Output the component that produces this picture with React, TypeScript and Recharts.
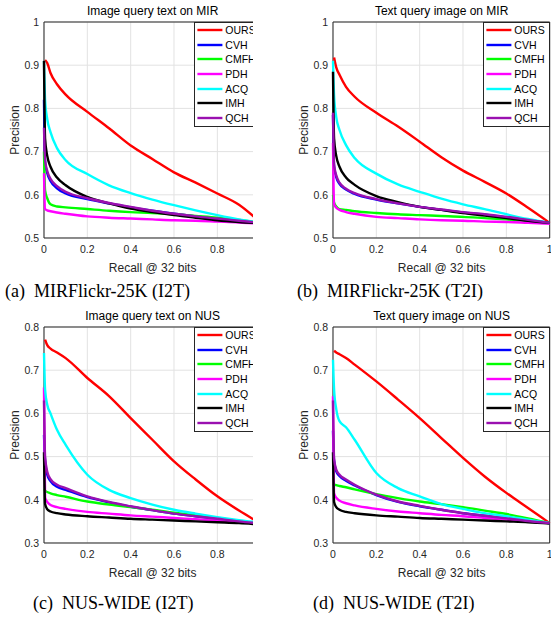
import React from 'react';
import { LineChart, Line, XAxis, YAxis, CartesianGrid, ReferenceArea, Legend } from 'recharts';

const RECALL = [0, 0.005, 0.015, 0.03, 0.06, 0.1, 0.2, 0.3, 0.4, 0.5, 0.6, 0.7, 0.8, 0.9, 1];
const METHODS = ['OURS', 'CVH', 'CMFH', 'PDH', 'ACQ', 'IMH', 'QCH'];
const COLORS = ['#ff0000', '#0000ff', '#00ff00', '#ff00ff', '#00ffff', '#000000', '#9a10b0'];
const X_TICKS = [0, 0.2, 0.4, 0.6, 0.8, 1];
const MIR_Y_TICKS = [0.5, 0.6, 0.7, 0.8, 0.9, 1];
const NUS_Y_TICKS = [0.3, 0.4, 0.5, 0.6, 0.7, 0.8];

// (a) MIRFlickr-25K, image query text
const MIR_I2T_OURS = [null, 0.912, 0.905, 0.882, 0.856, 0.832, 0.792, 0.754, 0.714, 0.683, 0.652, 0.628, 0.603, 0.577, 0.535];
const MIR_I2T_CVH = [0.82, 0.675, 0.65, 0.632, 0.615, 0.603, 0.59, 0.58, 0.571, 0.563, 0.556, 0.55, 0.544, 0.539, 0.535];
const MIR_I2T_CMFH = [0.7, 0.61, 0.592, 0.578, 0.573, 0.571, 0.567, 0.563, 0.56, 0.558, 0.555, 0.551, 0.547, 0.542, 0.535];
const MIR_I2T_PDH = [0.65, 0.567, 0.564, 0.562, 0.559, 0.556, 0.55, 0.547, 0.545, 0.543, 0.541, 0.54, 0.538, 0.536, 0.533];
const MIR_I2T_ACQ = [0.91, 0.82, 0.775, 0.745, 0.708, 0.68, 0.648, 0.622, 0.604, 0.589, 0.576, 0.564, 0.553, 0.543, 0.535];
const MIR_I2T_IMH = [0.91, 0.73, 0.69, 0.665, 0.64, 0.622, 0.595, 0.58, 0.568, 0.56, 0.553, 0.547, 0.541, 0.537, 0.534];
const MIR_I2T_QCH = [0.755, 0.68, 0.655, 0.637, 0.62, 0.607, 0.592, 0.581, 0.572, 0.563, 0.556, 0.55, 0.545, 0.54, 0.535];

// (b) MIRFlickr-25K, text query image
const MIR_T2I_OURS = [null, 0.918, 0.895, 0.878, 0.85, 0.827, 0.79, 0.758, 0.723, 0.687, 0.656, 0.63, 0.603, 0.57, 0.535];
const MIR_T2I_CVH = [0.785, 0.665, 0.641, 0.625, 0.612, 0.602, 0.589, 0.58, 0.572, 0.565, 0.559, 0.554, 0.548, 0.542, 0.535];
const MIR_T2I_CMFH = [0.6, 0.582, 0.573, 0.567, 0.565, 0.562, 0.558, 0.555, 0.553, 0.551, 0.549, 0.546, 0.543, 0.539, 0.535];
const MIR_T2I_PDH = [0.72, 0.578, 0.57, 0.565, 0.56, 0.556, 0.549, 0.546, 0.543, 0.541, 0.54, 0.538, 0.537, 0.535, 0.533];
const MIR_T2I_ACQ = [0.91, 0.83, 0.78, 0.75, 0.715, 0.685, 0.649, 0.624, 0.607, 0.591, 0.578, 0.567, 0.555, 0.544, 0.535];
const MIR_T2I_IMH = [0.885, 0.73, 0.69, 0.665, 0.64, 0.623, 0.597, 0.583, 0.572, 0.565, 0.558, 0.552, 0.546, 0.54, 0.535];
const MIR_T2I_QCH = [0.79, 0.67, 0.645, 0.628, 0.614, 0.604, 0.59, 0.58, 0.572, 0.566, 0.56, 0.555, 0.549, 0.542, 0.535];

// (c) NUS-WIDE, image query text
const NUS_I2T_OURS = [null, 0.771, 0.758, 0.75, 0.741, 0.728, 0.682, 0.64, 0.589, 0.539, 0.489, 0.447, 0.408, 0.375, 0.345];
const NUS_I2T_CVH = [0.55, 0.49, 0.458, 0.443, 0.43, 0.423, 0.406, 0.394, 0.384, 0.376, 0.368, 0.362, 0.356, 0.35, 0.345];
const NUS_I2T_CMFH = [0.425, 0.421, 0.418, 0.415, 0.411, 0.407, 0.396, 0.389, 0.383, 0.377, 0.37, 0.364, 0.358, 0.351, 0.345];
const NUS_I2T_PDH = [0.66, 0.405, 0.395, 0.388, 0.383, 0.379, 0.372, 0.368, 0.364, 0.361, 0.358, 0.355, 0.352, 0.349, 0.345];
const NUS_I2T_ACQ = [0.74, 0.655, 0.62, 0.6, 0.562, 0.527, 0.458, 0.423, 0.404, 0.389, 0.377, 0.368, 0.36, 0.353, 0.347];
const NUS_I2T_IMH = [0.51, 0.39, 0.378, 0.373, 0.369, 0.366, 0.362, 0.359, 0.356, 0.354, 0.352, 0.35, 0.348, 0.346, 0.343];
const NUS_I2T_QCH = [0.63, 0.5, 0.465, 0.448, 0.435, 0.427, 0.408, 0.395, 0.385, 0.376, 0.368, 0.362, 0.356, 0.35, 0.345];

// (d) NUS-WIDE, text query image
const NUS_T2I_OURS = [null, 0.745, 0.741, 0.737, 0.728, 0.713, 0.674, 0.632, 0.589, 0.543, 0.497, 0.454, 0.416, 0.381, 0.346];
const NUS_T2I_CVH = [0.56, 0.49, 0.466, 0.455, 0.444, 0.433, 0.411, 0.395, 0.385, 0.377, 0.369, 0.363, 0.357, 0.351, 0.346];
const NUS_T2I_CMFH = [0.437, 0.435, 0.434, 0.432, 0.429, 0.424, 0.413, 0.404, 0.396, 0.39, 0.383, 0.375, 0.367, 0.357, 0.346];
const NUS_T2I_PDH = [0.64, 0.415, 0.405, 0.398, 0.392, 0.387, 0.379, 0.373, 0.369, 0.365, 0.362, 0.358, 0.354, 0.35, 0.346];
const NUS_T2I_ACQ = [0.724, 0.655, 0.61, 0.582, 0.568, 0.539, 0.462, 0.427, 0.408, 0.39, 0.379, 0.369, 0.362, 0.354, 0.346];
const NUS_T2I_IMH = [0.51, 0.395, 0.383, 0.377, 0.372, 0.369, 0.364, 0.361, 0.358, 0.356, 0.354, 0.352, 0.35, 0.348, 0.345];
const NUS_T2I_QCH = [0.63, 0.495, 0.47, 0.458, 0.447, 0.435, 0.412, 0.396, 0.386, 0.377, 0.369, 0.363, 0.357, 0.351, 0.346];

const SANS = '"Liberation Sans", Arial, Helvetica, sans-serif';
const SERIF = '"Liberation Serif", "Times New Roman", serif';
const AXIS_COLOR = '#262626';

const PLOT_W = 216.7;
const PLOT_H = 216;
const Y_AXIS_W = 44;
const TOP_M = 22;
const RIGHT_M = 4;
const X_AXIS_H = 30;
const CHART_W = Y_AXIS_W + PLOT_W + RIGHT_M;
const CHART_H = TOP_M + PLOT_H + X_AXIS_H;

function buildRows(series: (number | null)[][]) {
  return RECALL.map((r, i) => {
    const row: Record<string, number | null> = { recall: r };
    METHODS.forEach((m, k) => {
      row[m] = series[k][i];
    });
    return row;
  });
}

const LegendBox = () => (
  <div
    style={{
      position: 'relative',
      boxSizing: 'border-box',
      width: 66.7,
      height: 105,
      border: `1px solid ${AXIS_COLOR}`,
      background: '#fff',
      fontFamily: SANS,
      fontSize: 10.5,
      color: '#000',
    }}
  >
    {METHODS.map((m, i) => (
      <div
        key={m}
        style={{
          position: 'absolute',
          left: 0,
          top: 0.3 + i * 14.7,
          height: 14,
          display: 'flex',
          alignItems: 'center',
          whiteSpace: 'nowrap',
        }}
      >
        <svg width={30} height={14} style={{ display: 'block' }}>
          <line x1={2.4} y1={7} x2={27.4} y2={7} stroke={COLORS[i]} strokeWidth={2.4} />
        </svg>
        <span style={{ lineHeight: '14px' }}>{m}</span>
      </div>
    ))}
  </div>
);

type PanelProps = {
  plotLeft: number;
  plotTop: number;
  clipRight: number;
  title: string;
  yDomain: [number, number];
  yTicks: number[];
  series: (number | null)[][];
};

function Panel({ plotLeft, plotTop, clipRight, title, yDomain, yTicks, series }: PanelProps) {
  const chartLeft = plotLeft - Y_AXIS_W;
  const chartTop = plotTop - TOP_M;
  const data = buildRows(series);
  const centerX = plotLeft + PLOT_W / 2;
  return (
    <>
      <div
        style={{
          position: 'absolute',
          left: chartLeft,
          top: chartTop,
          width: clipRight - chartLeft,
          height: CHART_H,
          overflow: 'hidden',
        }}
      >
        <LineChart
          width={CHART_W}
          height={CHART_H}
          data={data}
          margin={{ top: TOP_M, right: RIGHT_M, bottom: 0, left: 0 }}
        >
          <CartesianGrid stroke="#e2e2e2" strokeWidth={1} />
          <XAxis
            dataKey="recall"
            type="number"
            domain={[0, 1]}
            ticks={X_TICKS}
            axisLine={false}
            tickLine={false}
            tickSize={0}
            tickMargin={8}
            height={X_AXIS_H}
            interval={0}
            tick={{ fill: AXIS_COLOR, fontSize: 10.5, fontFamily: SANS }}
          />
          <YAxis
            type="number"
            domain={yDomain}
            ticks={yTicks}
            axisLine={false}
            tickLine={false}
            tickSize={0}
            tickMargin={5}
            width={Y_AXIS_W}
            interval={0}
            tick={{ fill: AXIS_COLOR, fontSize: 10.5, fontFamily: SANS }}
          />
          <ReferenceArea
            x1={0}
            x2={1}
            y1={yDomain[0]}
            y2={yDomain[1]}
            fill="none"
            stroke={AXIS_COLOR}
            strokeWidth={1}
          />
          {METHODS.map((m, i) => (
            <Line
              key={m}
              dataKey={m}
              type="monotone"
              stroke={COLORS[i]}
              strokeWidth={2.4}
              dot={false}
              activeDot={false}
              isAnimationActive={false}
            />
          ))}
          <Legend
            layout="vertical"
            align="center"
            verticalAlign="middle"
            wrapperStyle={{ left: Y_AXIS_W + PLOT_W - 66.7, top: TOP_M - 0.6, width: 66.7, height: 105 }}
            content={() => <LegendBox />}
          />
        </LineChart>
      </div>
      <div
        style={{
          position: 'absolute',
          left: centerX - 100,
          width: 200,
          top: plotTop - 19,
          textAlign: 'center',
          fontFamily: SANS,
          fontSize: 12,
          lineHeight: '16px',
          color: '#000',
          whiteSpace: 'nowrap',
        }}
      >
        {title}
      </div>
      <div
        style={{
          position: 'absolute',
          left: centerX - 100,
          width: 200,
          top: plotTop + PLOT_H + 21.5,
          textAlign: 'center',
          fontFamily: SANS,
          fontSize: 12,
          lineHeight: '16px',
          color: AXIS_COLOR,
          whiteSpace: 'nowrap',
        }}
      >
        Recall @ 32 bits
      </div>
      <div
        style={{
          position: 'absolute',
          left: plotLeft - 29.5 - 50,
          width: 100,
          top: plotTop + PLOT_H / 2 - 8,
          height: 16,
          textAlign: 'center',
          fontFamily: SANS,
          fontSize: 12,
          lineHeight: '16px',
          color: AXIS_COLOR,
          transform: 'rotate(-90deg)',
          whiteSpace: 'nowrap',
        }}
      >
        Precision
      </div>
    </>
  );
}

const Caption = ({ left, top, text }: { left: number; top: number; text: string }) => (
  <div
    style={{
      position: 'absolute',
      left,
      top,
      fontFamily: SERIF,
      fontSize: 18,
      lineHeight: '20px',
      color: '#000',
      whiteSpace: 'pre',
    }}
  >
    {text}
  </div>
);

export default function App() {
  return (
    <div
      style={{
        position: 'absolute',
        left: 0,
        top: 0,
        width: 551,
        height: 618,
        overflow: 'hidden',
        background: '#fff',
      }}
    >
      <Panel
        plotLeft={44.3}
        plotTop={22.3}
        clipRight={253.5}
        title="Image query text on MIR"
        yDomain={[0.5, 1]}
        yTicks={MIR_Y_TICKS}
        series={[MIR_I2T_OURS, MIR_I2T_CVH, MIR_I2T_CMFH, MIR_I2T_PDH, MIR_I2T_ACQ, MIR_I2T_IMH, MIR_I2T_QCH]}
      />
      <Panel
        plotLeft={333.3}
        plotTop={22.3}
        clipRight={551}
        title="Text query image on MIR"
        yDomain={[0.5, 1]}
        yTicks={MIR_Y_TICKS}
        series={[MIR_T2I_OURS, MIR_T2I_CVH, MIR_T2I_CMFH, MIR_T2I_PDH, MIR_T2I_ACQ, MIR_T2I_IMH, MIR_T2I_QCH]}
      />
      <Panel
        plotLeft={44.3}
        plotTop={327.3}
        clipRight={253.5}
        title="Image query text on NUS"
        yDomain={[0.3, 0.8]}
        yTicks={NUS_Y_TICKS}
        series={[NUS_I2T_OURS, NUS_I2T_CVH, NUS_I2T_CMFH, NUS_I2T_PDH, NUS_I2T_ACQ, NUS_I2T_IMH, NUS_I2T_QCH]}
      />
      <Panel
        plotLeft={333.3}
        plotTop={327.3}
        clipRight={551}
        title="Text query image on NUS"
        yDomain={[0.3, 0.8]}
        yTicks={NUS_Y_TICKS}
        series={[NUS_T2I_OURS, NUS_T2I_CVH, NUS_T2I_CMFH, NUS_T2I_PDH, NUS_T2I_ACQ, NUS_T2I_IMH, NUS_T2I_QCH]}
      />
      <Caption left={5} top={281} text="(a)  MIRFlickr-25K (I2T)" />
      <Caption left={297} top={281} text="(b)  MIRFlickr-25K (T2I)" />
      <Caption left={33} top={593} text="(c)  NUS-WIDE (I2T)" />
      <Caption left={313} top={593} text="(d)  NUS-WIDE (T2I)" />
    </div>
  );
}
